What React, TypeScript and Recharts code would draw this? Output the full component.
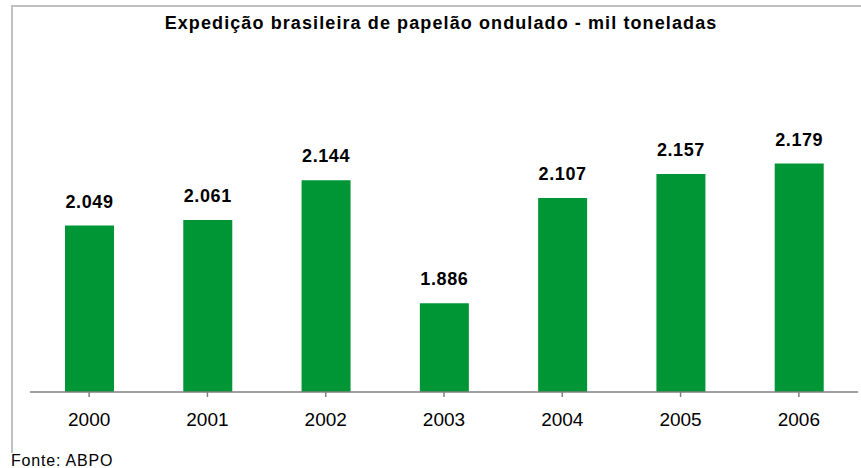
import React from "react";
import { BarChart, Bar, XAxis, YAxis, LabelList } from "recharts";

const years = ["2000", "2001", "2002", "2003", "2004", "2005", "2006"];
const values = [2049, 2061, 2144, 1886, 2107, 2157, 2179];
const valueLabels = ["2.049", "2.061", "2.144", "1.886", "2.107", "2.157", "2.179"];
const title = "Expedição brasileira de papelão ondulado - mil toneladas";
const source = "Fonte: ABPO";

const data = years.map((y, i) => ({ year: y, value: values[i], label: valueLabels[i] }));

const FONT = "Arial, 'Liberation Sans', sans-serif";

export default function App() {
  return (
    <div style={{ position: "absolute", left: 0, top: 0, width: 861, height: 468, background: "#fff", overflow: "hidden", fontFamily: FONT }}>
      <div style={{ position: "absolute", left: 11, top: 5, width: 880, height: 446, borderTop: "2px solid #c0c0c0", borderLeft: "2px solid #c0c0c0" }} />
      <div style={{ position: "absolute", left: 0, width: 882, top: 13, textAlign: "center", fontWeight: "bold", fontSize: 18, letterSpacing: 1.1, color: "#000" }}>{title}</div>
      <div style={{ position: "absolute", left: 11, top: 452, fontSize: 16, color: "#000", letterSpacing: 0.8 }}>{source}</div>
      <div style={{ position: "absolute", left: 0, top: 0 }}>
        <BarChart width={861} height={468} data={data} margin={{ top: 153.6, bottom: 46, left: 30, right: 3 }}>
          <XAxis dataKey="year" axisLine={{ stroke: "#808080", strokeWidth: 1.5 }} tickLine={{ stroke: "#808080", strokeWidth: 1.5 }} tickSize={5} tickMargin={16} tick={{ fill: "#000", fontSize: 19, fontFamily: FONT }} interval={0} />
          <YAxis hide domain={[1700, 2200]} allowDataOverflow />
          <Bar dataKey="value" fill="#009535" barSize={49} isAnimationActive={false}>
            <LabelList dataKey="label" position="top" offset={18} style={{ fill: "#000", fontSize: 18, fontWeight: "bold", letterSpacing: 0.6, fontFamily: FONT }} />
          </Bar>
        </BarChart>
      </div>
    </div>
  );
}
